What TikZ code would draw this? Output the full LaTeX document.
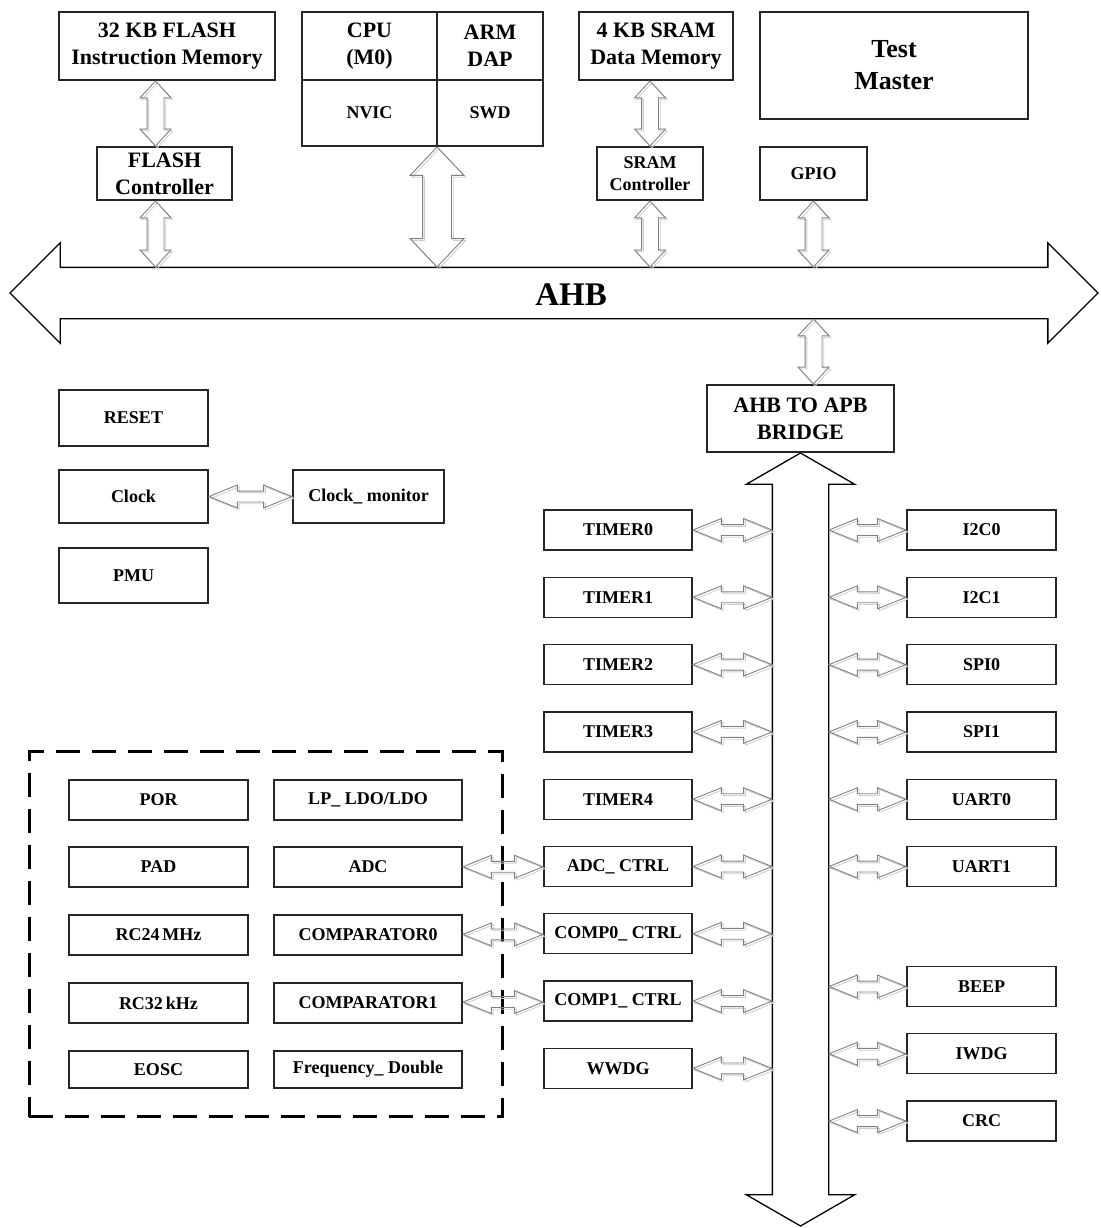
\documentclass[tikz,border=0pt]{standalone}
\usepackage{fontspec}
\setmainfont{Liberation Serif}
\usepackage{tikz}
\usetikzlibrary{positioning,calc,fit,shapes.arrows,shadows}

\tikzset{
  blk/.style={rectangle, draw=black!85, line width=1.3pt, inner sep=0pt, outer sep=0pt, align=center},
  big/.style={blk, font=\bfseries\fontsize{22}{27}\selectfont},
  small/.style={blk, font=\bfseries\fontsize{18}{22}\selectfont},
  periph/.style={small, minimum width=148pt, minimum height=40pt},
  analogbox/.style={small, minimum height=40pt},
  bus/.style={double arrow, draw=black, line width=1.3pt, fill=white, outer sep=0pt},
  link/.style={double arrow, draw=black!50, line width=0.9pt, outer sep=0pt,
    copy shadow={shadow xshift=1.8pt, shadow yshift=-1.8pt, draw=black!20, fill=none, line width=0.8pt},
    inner sep=5pt, double arrow head extend=6pt, double arrow tip angle=44},
  vlink/.style={link, shape border rotate=90, inner sep=8pt,
    double arrow head extend=7pt, double arrow tip angle=85},
  cpulink/.style={vlink, inner sep=14pt, double arrow head extend=12.5pt, double arrow tip angle=87},
}

% hollow arrow between two points: style, name, from, to
\newcommand{\linkto}[4][link]{%
  \path let \p1=(#3), \p2=(#4), \n1={veclen(\x2-\x1,\y2-\y1)} in
    node[#1, minimum height=\n1-2pt] (#2) at ($(\p1)!.5!(\p2)$) {};}

\begin{document}
\begin{tikzpicture}[x=1pt, y=-1pt]
\useasboundingbox (0,0) rectangle (1100,1228);

% top row
\node[big, minimum width=216pt, minimum height=68pt] (flashmem) at (167,46) {32 KB FLASH\\Instruction Memory};
\node[big, minimum width=135pt, minimum height=68pt] (cpu) at (369.5,46) {CPU\\(M0)};
\node[big, minimum width=106pt, minimum height=68pt, right=0pt of cpu] (dap) {ARM\\DAP};
\node[small, minimum width=135pt, minimum height=66pt, below=0pt of cpu] (nvic) {NVIC};
\node[small, minimum width=106pt, minimum height=66pt, below=0pt of dap] (swd) {SWD};
\node[big, minimum width=154pt, minimum height=68pt] (srammem) at (656,46) {4 KB SRAM\\Data Memory};
\node[blk, font=\bfseries\fontsize{26}{32}\selectfont, minimum width=268pt, minimum height=107pt] (testmaster) at (894,65.5) {Test\\Master};
\node[big, minimum width=135pt, minimum height=53pt] (flashctl) at (164.5,173.5) {FLASH\\Controller};
\node[small, minimum width=106pt, minimum height=53pt] (sramctl) at (650,173.5) {SRAM\\Controller};
\node[small, minimum width=107pt, minimum height=53pt] (gpio) at (813.5,173.5) {GPIO};

% AHB bus
\node[bus, minimum height=1088pt, inner sep=25pt, double arrow head extend=24.5pt, double arrow tip angle=90] (ahb) at (554,293) {};
\node[font=\bfseries\fontsize{33}{36}\selectfont] (ahblabel) at (571,295) {AHB};
\coordinate (ahbT) at ($(ahb.center)+(0,-25)$);
\coordinate (ahbB) at ($(ahb.center)+(0,25)$);

% system blocks
\node[small, minimum width=149pt, minimum height=56pt] (reset) at (133.5,418) {RESET};
\node[small, minimum width=149pt, minimum height=53pt] (clock) at (133.5,496.5) {Clock};
\node[small, minimum width=149pt, minimum height=55pt] (pmu) at (133.5,575.5) {PMU};
\node[small, minimum width=151pt, minimum height=53pt] (clkmon) at (368.5,496.5) {Clock\_ monitor};
\node[big, minimum width=187pt, minimum height=67pt] (bridge) at (800.5,418.5) {AHB TO APB\\BRIDGE};

% APB bus
\coordinate (apbend) at (800.5,1227);
\linkto[bus, shape border rotate=90, inner sep=27.5pt, double arrow head extend=26pt, double arrow tip angle=120]{apb}{bridge.south}{apbend}
\coordinate (busL) at ($(apb.center)+(-27.5,0)$);
\coordinate (busR) at ($(apb.center)+(27.5,0)$);

% APB peripherals, left
\node[periph] (timer0) at (618,530) {TIMER0};
\node[periph, below=27.3pt of timer0] (timer1) {TIMER1};
\node[periph, below=27.3pt of timer1] (timer2) {TIMER2};
\node[periph, below=27.3pt of timer2] (timer3) {TIMER3};
\node[periph, below=27.3pt of timer3] (timer4) {TIMER4};
\node[periph, below=27.3pt of timer4] (adcctrl) {ADC\_ CTRL};
\node[periph, below=27.3pt of adcctrl] (comp0ctrl) {COMP0\_ CTRL};
\node[periph, below=27.3pt of comp0ctrl] (comp1ctrl) {COMP1\_ CTRL};
\node[periph, below=27.3pt of comp1ctrl] (wwdg) {WWDG};

% APB peripherals, right
\node[periph, minimum width=149pt] (i2c0) at (981.5,530) {I2C0};
\node[periph, minimum width=149pt, below=27.3pt of i2c0] (i2c1) {I2C1};
\node[periph, minimum width=149pt, below=27.3pt of i2c1] (spi0) {SPI0};
\node[periph, minimum width=149pt, below=27.3pt of spi0] (spi1) {SPI1};
\node[periph, minimum width=149pt, below=27.3pt of spi1] (uart0) {UART0};
\node[periph, minimum width=149pt, below=27.3pt of uart0] (uart1) {UART1};
\node[periph, minimum width=149pt, below=80pt of uart1] (beep) {BEEP};
\node[periph, minimum width=149pt, below=27.3pt of beep] (iwdg) {IWDG};
\node[periph, minimum width=149pt, below=27.3pt of iwdg] (crc) {CRC};

% analog blocks
\node[analogbox, minimum width=179pt] (por) at (158.5,800) {POR};
\node[analogbox, minimum width=188pt, right=26pt of por] (ldo) {LP\_ LDO/LDO};
\node[analogbox, minimum width=179pt, below=27pt of por] (pad) {PAD};
\node[analogbox, minimum width=188pt, right=26pt of pad] (adc) {ADC};
\node[analogbox, minimum width=179pt, below=28pt of pad] (rc24) {RC24\,MHz};
\node[analogbox, minimum width=188pt, right=26pt of rc24] (comp0) {COMPARATOR0};
\node[analogbox, minimum width=179pt, below=28pt of rc24] (rc32) {RC32\,kHz};
\node[analogbox, minimum width=188pt, right=26pt of rc32] (comp1) {COMPARATOR1};
\node[analogbox, minimum width=179pt, minimum height=37pt, below=28pt of rc32] (eosc) {EOSC};
\node[analogbox, minimum width=188pt, minimum height=37pt, right=26pt of eosc] (freq) {Frequency\_ Double};
\node[draw, line width=3pt, dash pattern=on 24pt off 12pt, inner xsep=40pt, inner ysep=28.5pt, fit=(por)(freq)] (analog) {};

% links to AHB
\coordinate (flashx) at ([xshift=-9pt]flashctl.north);
\linkto[vlink]{lflash}{flashx |- flashmem.south}{flashx}
\linkto[vlink]{lflashahb}{flashx |- flashctl.south}{flashx |- ahbT}
\linkto[cpulink]{lcpu}{nvic.south east}{nvic.south east |- ahbT}
\linkto[vlink]{lsram}{sramctl.north |- srammem.south}{sramctl.north}
\linkto[vlink]{lsramahb}{sramctl.south}{sramctl.south |- ahbT}
\linkto[vlink]{lgpio}{gpio.south}{gpio.south |- ahbT}
\linkto[vlink]{lbridge}{gpio.south |- ahbB}{gpio.south |- bridge.north}
\linkto{lclock}{clock.east}{clkmon.west}

% links to APB
\linkto{lt0}{timer0.east}{timer0.east -| busL}
\linkto{lt1}{timer1.east}{timer1.east -| busL}
\linkto{lt2}{timer2.east}{timer2.east -| busL}
\linkto{lt3}{timer3.east}{timer3.east -| busL}
\linkto{lt4}{timer4.east}{timer4.east -| busL}
\linkto{ladcctrl}{adcctrl.east}{adcctrl.east -| busL}
\linkto{lcomp0ctrl}{comp0ctrl.east}{comp0ctrl.east -| busL}
\linkto{lcomp1ctrl}{comp1ctrl.east}{comp1ctrl.east -| busL}
\linkto{lwwdg}{wwdg.east}{wwdg.east -| busL}
\linkto{li2c0}{busR |- i2c0.west}{i2c0.west}
\linkto{li2c1}{busR |- i2c1.west}{i2c1.west}
\linkto{lspi0}{busR |- spi0.west}{spi0.west}
\linkto{lspi1}{busR |- spi1.west}{spi1.west}
\linkto{luart0}{busR |- uart0.west}{uart0.west}
\linkto{luart1}{busR |- uart1.west}{uart1.west}
\linkto{lbeep}{busR |- beep.west}{beep.west}
\linkto{liwdg}{busR |- iwdg.west}{iwdg.west}
\linkto{lcrc}{busR |- crc.west}{crc.west}

% analog to controllers
\linkto{ladc}{adc.east}{adcctrl.west}
\linkto{lcomp0}{comp0.east}{comp0ctrl.west}
\linkto{lcomp1}{comp1.east}{comp1ctrl.west}
\end{tikzpicture}
\end{document}
